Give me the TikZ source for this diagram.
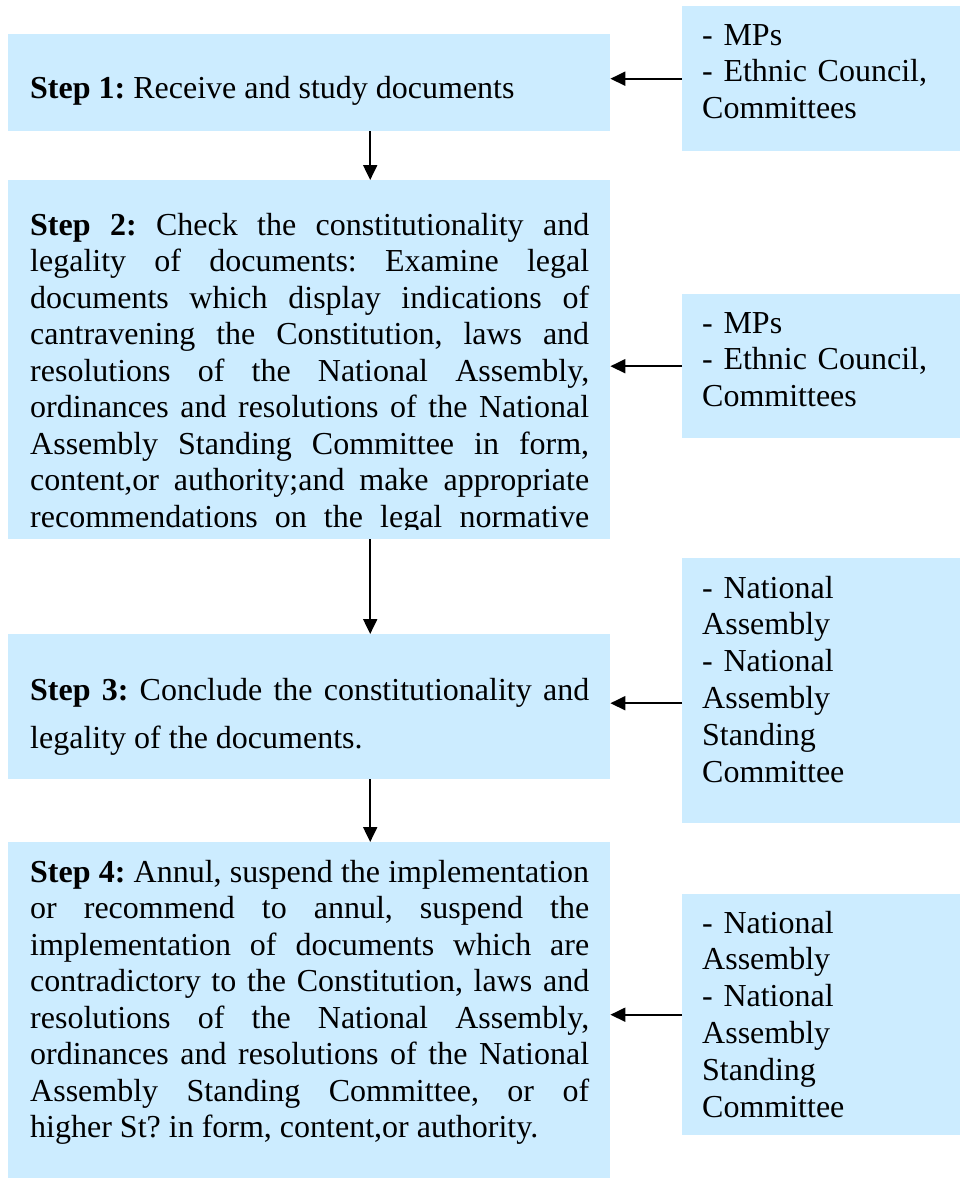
\documentclass[tikz,border=0pt]{standalone}
\usepackage{fontspec}
\setmainfont{Liberation Serif}
\frenchspacing
\usetikzlibrary{calc,arrows.meta,positioning}
\definecolor{celeste}{RGB}{204,236,255}
\tikzset{
    caja/.style={rectangle,fill=celeste,draw=none,anchor=north west,inner sep=0pt},
    paso/.style={caja,minimum width=602pt},
    fuente/.style={caja,minimum width=278pt},
    texto/.style={anchor=base west,inner sep=0pt,font=\fontsize{32}{36.5}\selectfont},
    textopaso/.style={texto,text width=559pt,align=justify},
    textofuente/.style={texto,text width=250pt,align=left,font=\fontsize{32}{36.8}\selectfont},
    flecha/.style={draw,line width=2pt,->,>={Triangle[length=15pt,width=14pt]}},
}

\begin{document}
\begin{tikzpicture}[x=1pt,y=-1pt]
    \useasboundingbox (0,0) rectangle (960,1187);

    % cajas de los pasos
    \node [paso,minimum height=97pt] (paso1) at (8,34) {};
    \node [paso,minimum height=359pt] (paso2) at (8,180) {};
    \node [paso,minimum height=145pt] (paso3) at (8,634) {};
    \node [paso,minimum height=336pt] (paso4) at (8,842) {};

    % cajas de la derecha
    \node [fuente,minimum height=145pt] (fuente1) at (682,6) {};
    \node [fuente,minimum height=144pt] (fuente2) at (682,294) {};
    \node [fuente,minimum height=265pt] (fuente3) at (682,558) {};
    \node [fuente,minimum height=241pt] (fuente4) at (682,894) {};

    % textos
    \node [texto] (tpaso1) at (30,98) {\textbf{Step 1:} Receive and study documents};
    \begin{scope}
        \clip (8,180) rectangle (610,529);
        \node [textopaso] (tpaso2) at (30,235) {%
            \textbf{Step 2:} Check the constitutionality and\linebreak
            legality of documents: Examine legal\linebreak
            documents which display indications of\linebreak
            cantravening the Constitution, laws and\linebreak
            resolutions of the National Assembly,\linebreak
            ordinances and resolutions of the National\linebreak
            Assembly Standing Committee in form,\linebreak
            content,or authority;and make appropriate\linebreak
            recommendations on the legal normative\linebreak\mbox{}};
    \end{scope}
    \node [textopaso,font=\fontsize{32}{48}\selectfont] (tpaso3) at (30,700) {%
        \textbf{Step 3:} Conclude the constitutionality and\linebreak
        legality of the documents.};
    \node [textopaso] (tpaso4) at (30,882) {%
        \textbf{Step 4:} Annul, suspend the implementation\linebreak
        or recommend to annul, suspend the\linebreak
        implementation of documents which are\linebreak
        contradictory to the Constitution, laws and\linebreak
        resolutions of the National Assembly,\linebreak
        ordinances and resolutions of the National\linebreak
        Assembly Standing Committee, or of\linebreak
        higher St? in form, content,or authority.};

    \node [textofuente] (tfuente1) at (702,45) {- MPs\\- Ethnic Council,\\Committees};
    \node [textofuente] (tfuente2) at (702,333) {- MPs\\- Ethnic Council,\\Committees};
    \node [textofuente] (tfuente3) at (702,598) {- National\\Assembly\\- National\\Assembly\\Standing\\Committee};
    \node [textofuente] (tfuente4) at (702,933) {- National\\Assembly\\- National\\Assembly\\Standing\\Committee};

    % flechas
    \path [flecha] ([xshift=61pt]paso1.south) -- ([xshift=61pt]paso2.north);
    \path [flecha] ([xshift=61pt]paso2.south) -- ([xshift=61pt]paso3.north);
    \path [flecha] ([xshift=61pt]paso3.south) -- ([xshift=61pt]paso4.north);
    \path [flecha] (fuente1.west) -- (fuente1.west -| paso1.east);
    \path [flecha] (fuente2.west) -- (fuente2.west -| paso2.east);
    \path [flecha] ([yshift=-12.5pt]fuente3.west) -- ([yshift=-12.5pt]fuente3.west -| paso3.east);
    \path [flecha] (fuente4.west) -- (fuente4.west -| paso4.east);
\end{tikzpicture}
\end{document}
